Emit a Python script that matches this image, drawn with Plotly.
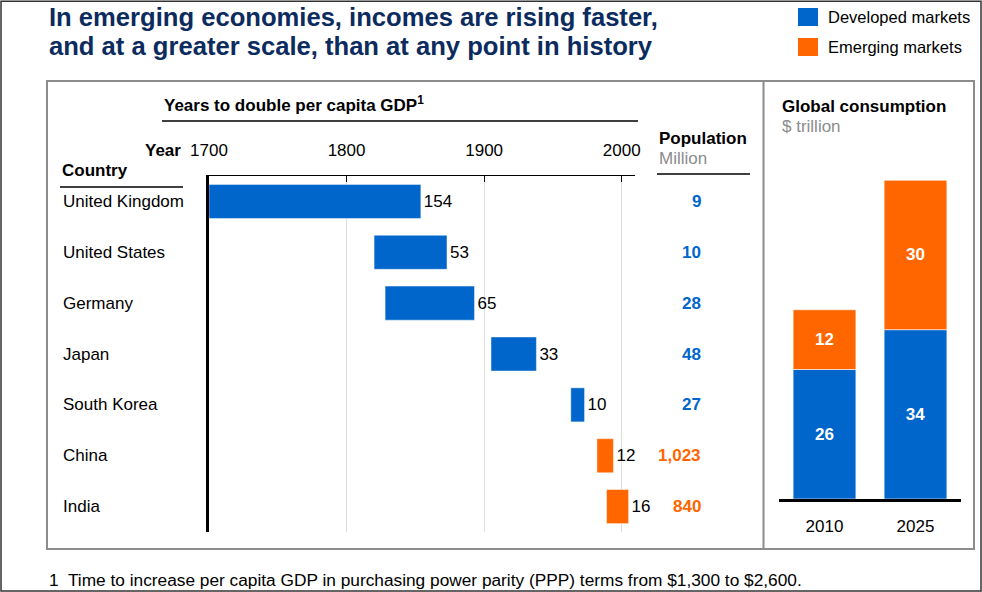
import plotly.graph_objects as go

W, H = 982, 592

# Years-to-double data (start year and duration in years)
countries = ["United Kingdom", "United States", "Germany", "Japan",
             "South Korea", "China", "India"]
start_year = [1700, 1820, 1828, 1905, 1963, 1982, 1989]
years_to_double = [154, 53, 65, 33, 10, 12, 16]
market = ["Developed", "Developed", "Developed", "Developed",
          "Developed", "Emerging", "Emerging"]
population = ["9", "10", "28", "48", "27", "1,023", "840"]
year_ticks = [1700, 1800, 1900, 2000]

# Global consumption, $ trillion
consumption_years = ["2010", "2025"]
developed_consumption = [26, 34]
emerging_consumption = [12, 30]

BLUE = "#0066CC"
ORANGE = "#FF6600"
NAVY = "#0c2b5e"
GRAY = "#8c8c8c"
FONT = "Liberation Sans, Arial, sans-serif"
COLORS = {"Developed": BLUE, "Emerging": ORANGE}


def px(x):
    return x / W


def py(y):
    return 1 - y / H


fig = go.Figure()

fig.add_trace(go.Bar(
    y=countries, x=years_to_double, base=start_year, orientation="h",
    marker=dict(color=[COLORS[m] for m in market],
                line=dict(color="rgba(255,255,255,0.45)", width=1)),
    text=[str(v) for v in years_to_double], textposition="outside",
    textfont=dict(family=FONT, size=17, color="black"),
    constraintext="none", cliponaxis=False, width=0.67,
    xaxis="x", yaxis="y", hoverinfo="skip", showlegend=False,
))

fig.add_trace(go.Bar(
    x=consumption_years, y=developed_consumption, name="Developed markets",
    marker=dict(color=BLUE, line=dict(color="rgba(255,255,255,0.6)", width=1)),
    text=[str(v) for v in developed_consumption], textposition="inside",
    insidetextanchor="middle",
    textfont=dict(family=FONT, size=17, color="white", weight="bold"),
    width=0.69, xaxis="x2", yaxis="y2", hoverinfo="skip", showlegend=False,
))
fig.add_trace(go.Bar(
    x=consumption_years, y=emerging_consumption, base=developed_consumption,
    name="Emerging markets",
    marker=dict(color=ORANGE, line=dict(color="rgba(255,255,255,0.6)", width=1)),
    text=[str(v) for v in emerging_consumption], textposition="inside",
    insidetextanchor="middle",
    textfont=dict(family=FONT, size=17, color="white", weight="bold"),
    width=0.69, xaxis="x2", yaxis="y2", hoverinfo="skip", showlegend=False,
))

x_left, x_right = 209, 635
px_per_year = (621.7 - 209) / 300

annotations = []


def label(x, y, text, size=17, color="black", bold=False, xanchor="left",
          yanchor="middle", xref="paper", yref="paper"):
    annotations.append(dict(
        x=x, y=y, xref=xref, yref=yref, text=text, showarrow=False,
        xanchor=xanchor, yanchor=yanchor,
        font=dict(family=FONT, size=size, color=color,
                  weight="bold" if bold else "normal"),
    ))


# Title and legend
label(px(47), py(17), "In emerging economies, incomes are rising faster,",
      size=25.6, color=NAVY, bold=True)
label(px(47), py(46), "and at a greater scale, than at any point in history",
      size=25.6, color=NAVY, bold=True)
label(px(826), py(17), "Developed markets", size=16.5)
label(px(826), py(47), "Emerging markets", size=16.5)

# Left panel headers
label(px(162), py(104), "Years to double per capita GDP<sup>1</sup>", bold=True)
label(px(183), py(150), "Year", bold=True, xanchor="right")
label(px(60), py(171), "Country", bold=True)
label(px(657), py(138), "Population", bold=True)
label(px(657), py(158), "Million", color=GRAY)

for c in countries:
    label(px(61), c, c, yref="y")
for c, p, m in zip(countries, population, market):
    label(px(703), c, p, color=COLORS[m], bold=True, xanchor="right", yref="y")

# Right panel headers and totals
label(px(780), py(106), "Global consumption", bold=True)
label(px(780), py(126), "$ trillion", color=GRAY)
for yr, d, e in zip(consumption_years, developed_consumption, emerging_consumption):
    annotations.append(dict(
        x=yr, y=d + e, xref="x2", yref="y2", text=str(d + e), showarrow=False,
        xanchor="center", yanchor="bottom", yshift=2,
        font=dict(family=FONT, size=17, color="black"),
    ))

# Footnote
label(px(47), py(580),
      "1  Time to increase per capita GDP in purchasing power parity (PPP) terms from $1,300 to $2,600.",
      size=17.3)

shapes = [
    # page frame
    dict(type="rect", xref="paper", yref="paper", x0=px(1), x1=px(981),
         y0=py(591), y1=py(1.2), line=dict(color="#333333", width=1.5)),
    # panel box and divider
    dict(type="rect", xref="paper", yref="paper", x0=px(47), x1=px(974),
         y0=py(549), y1=py(81), line=dict(color=GRAY, width=2)),
    dict(type="line", xref="paper", yref="paper", x0=px(763.5), x1=px(763.5),
         y0=py(549), y1=py(81), line=dict(color=GRAY, width=2)),
    # header rules
    dict(type="line", xref="paper", yref="paper", x0=px(162), x1=px(638),
         y0=py(121), y1=py(121), line=dict(color="black", width=1.3)),
    dict(type="line", xref="paper", yref="paper", x0=px(60), x1=px(183),
         y0=py(187), y1=py(187), line=dict(color="black", width=1.3)),
    dict(type="line", xref="paper", yref="paper", x0=px(657), x1=px(750),
         y0=py(174), y1=py(174), line=dict(color="black", width=1.3)),
    # legend swatches
    dict(type="rect", xref="paper", yref="paper", x0=px(798), x1=px(818),
         y0=py(26), y1=py(8), fillcolor=BLUE, line=dict(width=0)),
    dict(type="rect", xref="paper", yref="paper", x0=px(798), x1=px(818),
         y0=py(56), y1=py(38), fillcolor=ORANGE, line=dict(width=0)),
]

fig.update_layout(
    width=W, height=H, autosize=False,
    margin=dict(l=0, r=0, t=0, b=0, pad=0, autoexpand=False),
    paper_bgcolor="white", plot_bgcolor="white",
    barmode="overlay", showlegend=False,
    font=dict(family=FONT, size=17, color="black"),
    xaxis=dict(
        domain=[px(x_left), px(x_right)],
        range=[1700, 1700 + (x_right - x_left) / px_per_year],
        side="top", anchor="y", tickvals=year_ticks,
        ticks="inside", ticklen=6, tickcolor="black", tickwidth=1,
        showline=True, linecolor="black", linewidth=1.3,
        showgrid=True, gridcolor="#dedede", gridwidth=1,
        zeroline=False, tickfont=dict(size=17), ticklabelstandoff=12,
        fixedrange=True, automargin=False,
    ),
    yaxis=dict(
        domain=[py(532), py(176)], anchor="x",
        categoryorder="array", categoryarray=countries,
        range=[len(countries) - 0.5, -0.5],
        showticklabels=False, ticks="", showgrid=False, zeroline=False,
        showline=True, linecolor="black", linewidth=3, fixedrange=True,
        automargin=False,
    ),
    xaxis2=dict(
        domain=[px(779), px(961)], anchor="y2",
        categoryorder="array", categoryarray=consumption_years,
        range=[-0.5, 1.5], showline=True, linecolor="black", linewidth=3,
        ticks="", showgrid=False, zeroline=False,
        tickfont=dict(size=17), ticklabelstandoff=10, fixedrange=True,
        automargin=False,
    ),
    yaxis2=dict(
        domain=[py(499), py(499 - 70 * 4.98)], anchor="x2", range=[0, 70],
        visible=False, fixedrange=True, automargin=False,
    ),
    annotations=annotations,
    shapes=shapes,
)

fig.write_html("out.html")
